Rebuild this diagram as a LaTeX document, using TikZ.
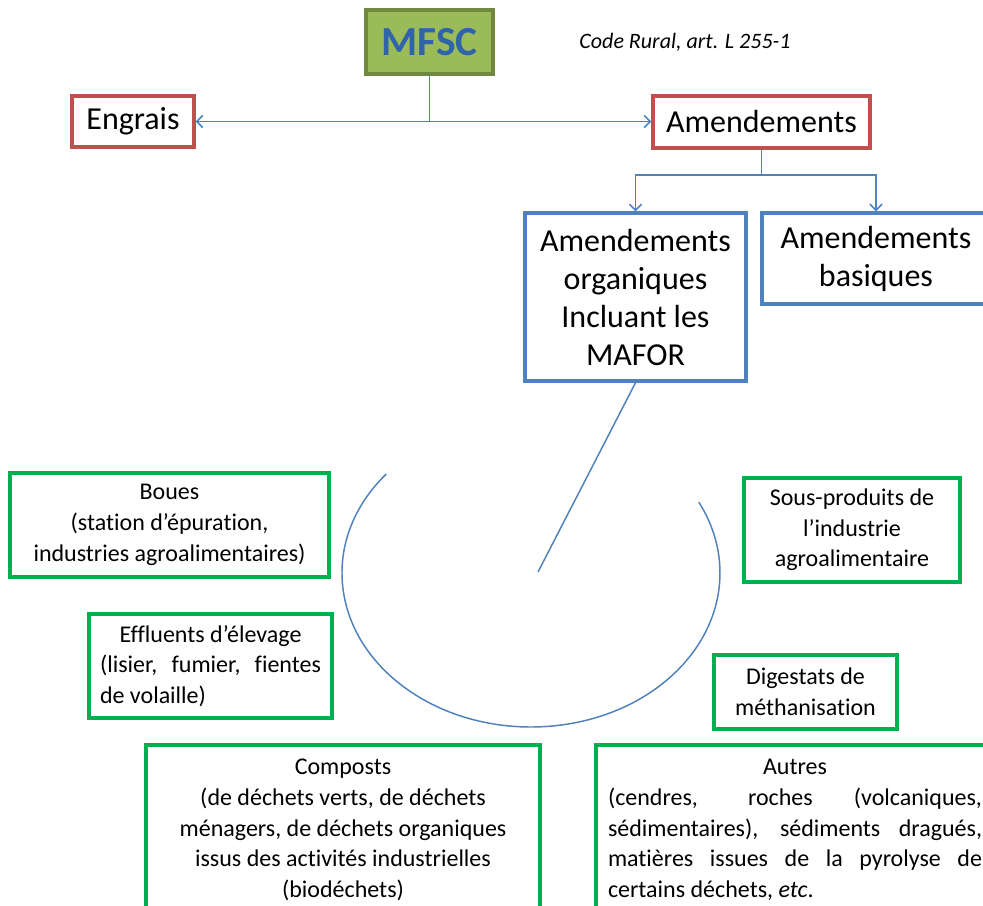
\documentclass[tikz,border=0pt]{standalone}
\usepackage{fontspec}
\setmainfont{Carlito}[Ligatures=NoCommon]
\usepackage{xcolor}
\usetikzlibrary{arrows.meta}
\definecolor{boxred}{HTML}{C0504D}
\definecolor{boxblue}{HTML}{4F81BD}
\definecolor{boxgreen}{HTML}{00B050}
\definecolor{mfscfill}{HTML}{9BBB59}
\definecolor{mfscline}{HTML}{71893F}
\definecolor{mfsctext}{HTML}{2F64A8}

\begin{document}
\begin{tikzpicture}[x=0.75pt, y=-0.75pt,
    big/.style={font=\fontsize{24}{28.5}\selectfont, align=center},
    small/.style={font=\fontsize{18}{23}\selectfont, align=center},
    redbox/.style={draw=boxred, line width=2.6pt, big},
    bluebox/.style={draw=boxblue, line width=2.6pt, big},
    greenbox/.style={draw=boxgreen, line width=2.6pt, small},
    link/.style={draw=boxblue, line width=1.1pt},
    >={Straight Barb[length=4.5pt, width=9pt]}]
    \useasboundingbox (0,0) rectangle (983,906);
    \clip (0,0) rectangle (983,906);

    % top of the tree
    \node[draw=mfscline, fill=mfscfill, line width=2.6pt, minimum width=95.25pt, minimum height=48pt,
          font=\fontsize{31}{31}\selectfont\bfseries, text=mfsctext] (mfsc) at (429.5,42) {MFSC};
    \node[font=\fontsize{16.5}{20}\selectfont\itshape] (code) at (685,42) {Code Rural, art. L 255-1};
    \node[redbox, minimum width=91.5pt, minimum height=38.25pt] (engrais) at (133,121.5) {Engrais};
    \node[redbox, minimum width=162.75pt, minimum height=39pt] (amend) at (761.5,122) {Amendements};
    \node[bluebox, minimum width=165.75pt, minimum height=126pt] (orga) at (635.5,297)
        {Amendements\\organiques\\Incluant les\\MAFOR};
    \node[bluebox, minimum width=171pt, minimum height=68.25pt] (basiques) at (876,258.5)
        {Amendements\\basiques};

    % the MAFOR around the ring
    \node[greenbox, minimum width=239.25pt, minimum height=78pt] (boues) at (169.5,525)
        {Boues\\(station d’épuration,\\industries agroalimentaires)};
    \node[greenbox, minimum width=162pt, minimum height=78pt] (sousprod) at (852,530)
        {Sous-produits de\\l’industrie\\agroalimentaire};
    \node[greenbox, minimum width=182.25pt, minimum height=78pt] (effluents) at (210.5,666)
        {Effluents d’élevage\\\makebox[165.75pt][s]{(lisier, fumier, fientes}\\
         \makebox[165.75pt][l]{de volaille)}};
    \node[greenbox, minimum width=137.25pt, minimum height=55.5pt] (digestats) at (805.5,692)
        {Digestats de\\méthanisation};
    \node[greenbox, minimum width=295.5pt, minimum height=127.5pt] (composts) at (343,830)
        {Composts\\(de déchets verts, de déchets\\ménagers, de déchets organiques\\issus des activités industrielles\\(biodéchets)};
    \node[greenbox, minimum width=298.5pt, minimum height=127.5pt] (autres) at (795,830)
        {Autres\\\makebox[280.5pt][s]{(cendres, roches (volcaniques,}\\
         \makebox[280.5pt][s]{sédimentaires), sédiments dragués,}\\
         \makebox[280.5pt][s]{matières issues de la pyrolyse de}\\
         \makebox[280.5pt][l]{certains déchets, \textit{etc}.}};

    % connectors
    \coordinate (split) at (761.5,175);
    \coordinate (ring) at (531,573);
    \coordinate (hub) at (538,572);
    \draw[link] (mfsc.south) -- (mfsc.south |- engrais.east);
    \draw[link, <->] (engrais.east) -- (engrais.east -| amend.west);
    \draw[link] (amend.south) -- (split);
    \draw[link, ->] (split) -| (orga.north);
    \draw[link, ->] (split) -| (basiques.north);
    \draw[link] (orga.south) -- (hub);
    \draw[link] (ring) ++(140:141.75pt and 115.5pt)
        arc[start angle=140, end angle=387.4, x radius=141.75pt, y radius=115.5pt];
\end{tikzpicture}
\end{document}
